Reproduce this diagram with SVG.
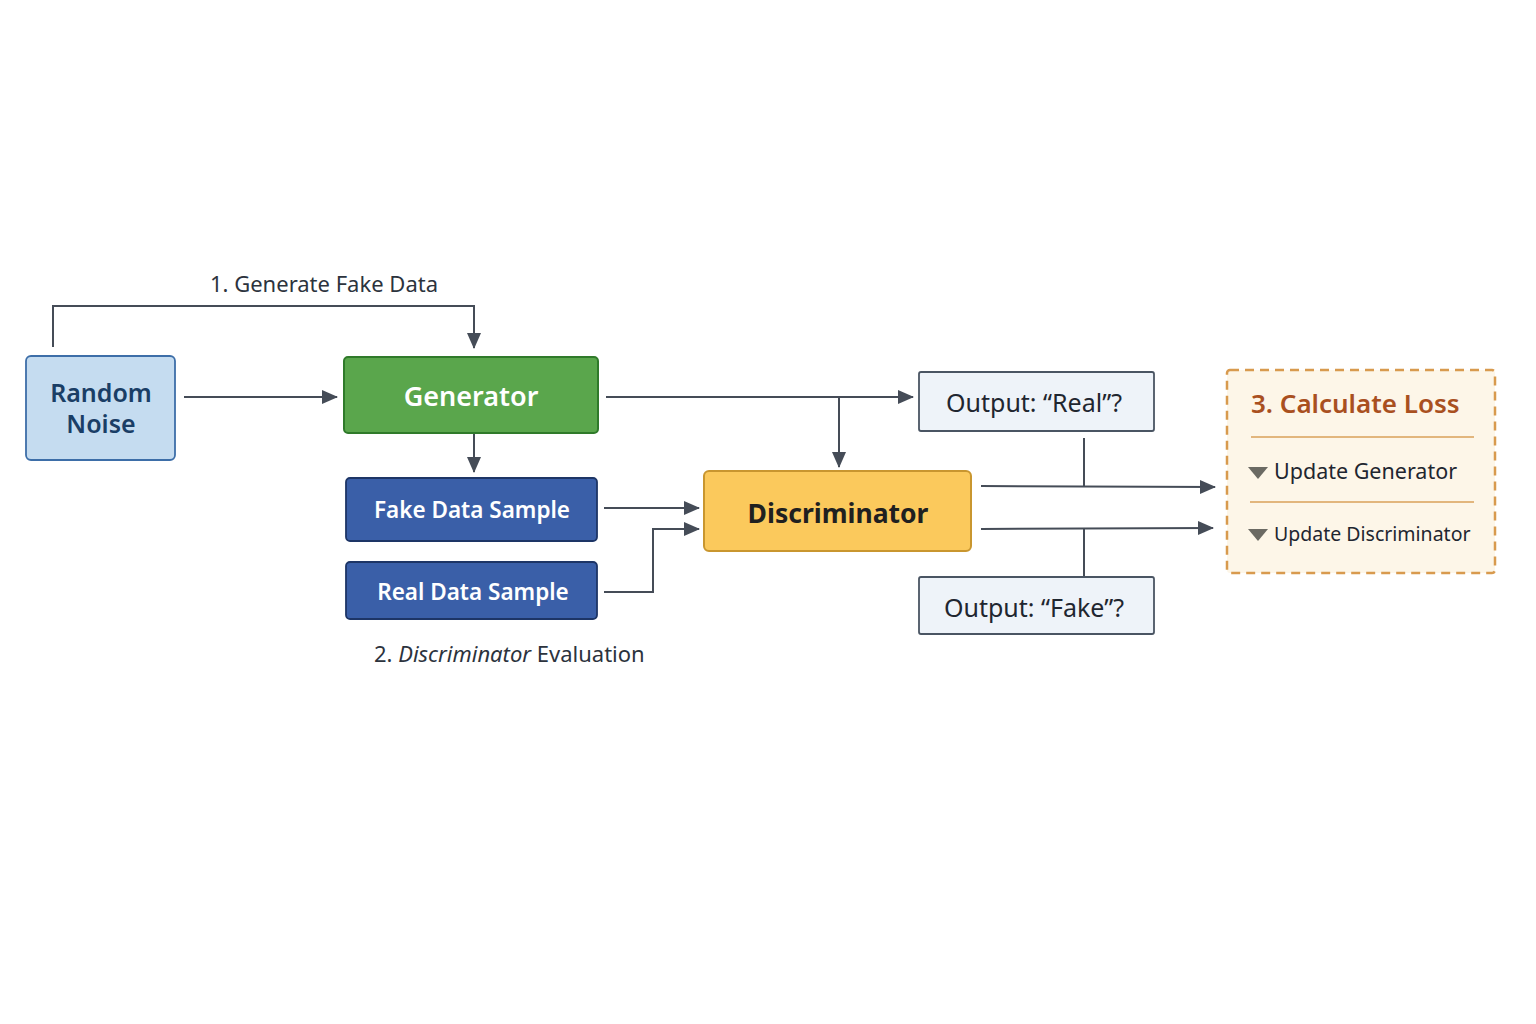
<svg xmlns="http://www.w3.org/2000/svg" width="1536" height="1024" viewBox="0 0 1536 1024">
<style>
text{font-family:"Noto Sans","Open Sans","Liberation Sans",sans-serif}
.c{fill:none;stroke:#454c57;stroke-width:2}
.lbl{font-size:22px;fill:#2c333d}
.out{fill:#eef3f9;stroke:#4a5563;stroke-width:1.8}
.outt{font-size:25px;fill:#1f2630;text-anchor:middle}
.blue{fill:#3a5fa8;stroke:#1d3566;stroke-width:1.8}
.bt{font-size:22.5px;fill:#fff;font-weight:600;text-anchor:middle}
</style>
<defs>
<marker id="ah" markerUnits="userSpaceOnUse" markerWidth="16" markerHeight="16" viewBox="0 0 16 16" refX="15" refY="8" orient="auto">
<path d="M0,1 L16,8 L0,15 z" fill="#454c57"/>
</marker>
</defs>
<rect width="1536" height="1024" fill="#fff"/>
<g id="connectors">
<path class="c" d="M53,347 V306 H474 V348" marker-end="url(#ah)"/>
<path class="c" d="M184,397 H337" marker-end="url(#ah)" stroke-width="1.6"/>
<path class="c" d="M606,397 H913" marker-end="url(#ah)"/>
<path class="c" d="M839,397 V467" marker-end="url(#ah)"/>
<path class="c" d="M474,433 V472" marker-end="url(#ah)"/>
<path class="c" d="M604,508 H699" marker-end="url(#ah)"/>
<path class="c" d="M604,592 H653 V529 H699" marker-end="url(#ah)"/>
<path class="c" d="M981,486 L1215,487" marker-end="url(#ah)"/>
<path class="c" d="M1084,438 V486"/>
<path class="c" d="M981,529 L1213,528" marker-end="url(#ah)"/>
<path class="c" d="M1084,529 V577"/>
</g>
<g id="label-generate">
<text class="lbl" x="210" y="292">1. Generate Fake Data</text>
</g>
<g id="label-eval">
<text class="lbl" x="374" y="662">2. <tspan font-style="italic">Discriminator</tspan> Evaluation</text>
</g>
<g id="random-noise">
<rect x="26" y="356" width="149" height="104" rx="5" fill="#c5dcf0" stroke="#3d6ea8" stroke-width="1.8"/>
<text x="101" y="402" font-size="25" font-weight="600" fill="#1a3e66" text-anchor="middle">Random</text>
<text x="101" y="433" font-size="25" font-weight="600" fill="#1a3e66" text-anchor="middle">Noise</text>
</g>
<g id="generator">
<rect x="344" y="357" width="254" height="76" rx="4" fill="#5aa64c" stroke="#2f7a2a" stroke-width="2"/>
<text x="471" y="406" font-size="27" font-weight="600" fill="#fff" text-anchor="middle">Generator</text>
</g>
<g id="fake-sample">
<rect class="blue" x="346" y="478" width="251" height="63" rx="4"/>
<text class="bt" x="472" y="518">Fake Data Sample</text>
</g>
<g id="real-sample">
<rect class="blue" x="346" y="562" width="251" height="57" rx="4"/>
<text class="bt" x="473" y="600">Real Data Sample</text>
</g>
<g id="discriminator">
<rect x="704" y="471" width="267" height="80" rx="5" fill="#fbc95c" stroke="#c9962f" stroke-width="2"/>
<text x="838" y="523" font-size="26.5" font-weight="700" fill="#1f2020" text-anchor="middle">Discriminator</text>
</g>
<g id="output-real">
<rect class="out" x="919" y="372" width="235" height="59" rx="2"/>
<text class="outt" x="1034" y="412">Output: “Real”?</text>
</g>
<g id="output-fake">
<rect class="out" x="919" y="577" width="235" height="57" rx="2"/>
<text class="outt" x="1034" y="617">Output: “Fake”?</text>
</g>
<g id="calculate-loss">
<rect x="1227" y="370" width="268" height="203" rx="3" fill="#fdf6e8" stroke="#d89a4e" stroke-width="2.5" stroke-dasharray="9,6"/>
<text x="1251" y="413" font-size="26" font-weight="600" fill="#a9501f">3. Calculate Loss</text>
<line x1="1251" y1="437" x2="1474" y2="437" stroke="#d8a05a" stroke-width="1.5"/>
<path d="M1248,467 L1268,467 L1258,479 z" fill="#6b6a63"/>
<text x="1274" y="479" font-size="21.5" fill="#1f2630">Update Generator</text>
<line x1="1250" y1="502" x2="1474" y2="502" stroke="#d8a05a" stroke-width="1.5"/>
<path d="M1248,529 L1268,529 L1258,541 z" fill="#6b6a63"/>
<text x="1274" y="541" font-size="19.5" fill="#1f2630">Update Discriminator</text>
</g>
</svg>
